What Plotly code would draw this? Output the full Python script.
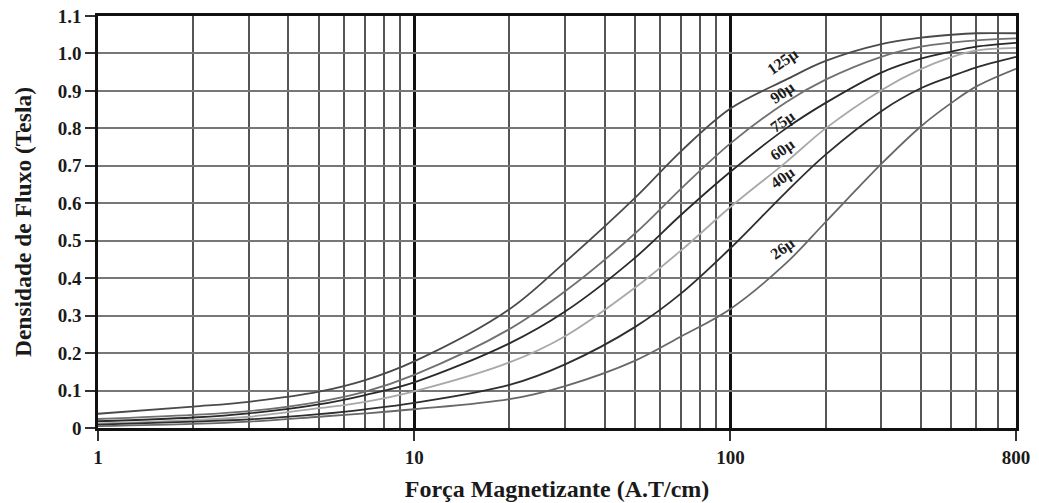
import numpy as np
import plotly.graph_objects as go

# ---- data ----
H = [1, 2, 3, 5, 7, 10, 20, 30, 50, 70, 100, 150, 200, 300, 400, 500, 600, 800]
B125 = [0.038, 0.057, 0.070, 0.097, 0.128, 0.178, 0.317, 0.443, 0.615, 0.740, 0.853, 0.930, 0.980, 1.025, 1.042, 1.050, 1.054, 1.054]
B90 = [0.024, 0.035, 0.045, 0.070, 0.097, 0.142, 0.264, 0.365, 0.520, 0.640, 0.760, 0.870, 0.930, 0.991, 1.018, 1.029, 1.035, 1.040]
B75 = [0.018, 0.028, 0.039, 0.063, 0.088, 0.122, 0.226, 0.311, 0.455, 0.570, 0.684, 0.800, 0.868, 0.949, 0.986, 1.005, 1.018, 1.028]
B60 = [0.012, 0.021, 0.030, 0.053, 0.070, 0.098, 0.175, 0.245, 0.375, 0.475, 0.590, 0.710, 0.800, 0.902, 0.958, 0.990, 1.008, 1.015]
B40 = [0.009, 0.017, 0.023, 0.037, 0.050, 0.067, 0.115, 0.170, 0.270, 0.360, 0.480, 0.630, 0.730, 0.846, 0.907, 0.939, 0.963, 0.991]
B26 = [0.005, 0.011, 0.017, 0.030, 0.039, 0.050, 0.077, 0.112, 0.180, 0.245, 0.318, 0.440, 0.550, 0.705, 0.805, 0.868, 0.912, 0.959]

series_names = ["125µ", "90µ", "75µ", "60µ", "40µ", "26µ"]
series_values = [B125, B90, B75, B60, B40, B26]
series_colors = ["#4a4a4a", "#707070", "#2a2a2a", "#a8a8a8", "#2e2e2e", "#686868"]

# label anchor points (H, B) for the curve names
label_H = [146, 146, 146, 146, 146, 146]
label_B = [0.978, 0.894, 0.818, 0.742, 0.668, 0.478]

x_tickvals = [1, 10, 100, 800]
x_ticktext = ["1", "10", "100", "800"]
x_minor = [2, 3, 4, 5, 6, 7, 8, 9, 20, 30, 40, 50, 60, 70, 80, 90, 200, 300, 400, 500, 600, 700]
y_tickvals = [0, 0.1, 0.2, 0.3, 0.4, 0.5, 0.6, 0.7, 0.8, 0.9, 1.0, 1.1]
y_ticktext = ["0", "0.1", "0.2", "0.3", "0.4", "0.5", "0.6", "0.7", "0.8", "0.9", "1.0", "1.1"]

FONT = "Liberation Serif"

fig = go.Figure()
for name, vals, col in zip(series_names, series_values, series_colors):
    fig.add_trace(go.Scatter(x=H, y=vals, mode="lines", name=name,
                             line=dict(color=col, width=1.8, shape="spline", smoothing=1.0),
                             showlegend=False, hoverinfo="skip"))

for name, hx, by in zip(series_names, label_H, label_B):
    fig.add_annotation(x=np.log10(hx), y=by, xref="x", yref="y", text="<b>%s</b>" % name,
                       showarrow=False, textangle=-35,
                       font=dict(family=FONT, size=16, color="#1a1a1a"))

fig.update_layout(
    width=1039, height=503,
    margin=dict(l=98, r=23, t=16, b=75, autoexpand=False),
    paper_bgcolor="white", plot_bgcolor="white",
    font=dict(family=FONT, color="#1a1a1a"),
)
fig.update_xaxes(
    type="log", range=[0, np.log10(800)], automargin=False,
    tickvals=x_tickvals, ticktext=["<b>%s</b>" % t for t in x_ticktext],
    ticks="outside", ticklen=10, tickwidth=1.5, tickcolor="#333",
    tickfont=dict(family=FONT, size=19, color="#1a1a1a"),
    showgrid=True, gridcolor="#111", gridwidth=2.5,
    minor=dict(tickvals=x_minor, showgrid=True, gridcolor="#555", gridwidth=1.6, ticks=""),
    showline=True, linecolor="#111", linewidth=2.5, mirror=True,
    zeroline=False,
    title=dict(text="<b>Força Magnetizante (A.T/cm)</b>", font=dict(family=FONT, size=24, color="#1a1a1a"),
               standoff=14),
)
fig.update_yaxes(
    range=[0, 1.1], automargin=False,
    tickvals=y_tickvals, ticktext=["<b>%s</b>" % t for t in y_ticktext],
    ticks="outside", ticklen=10, tickwidth=1.5, tickcolor="#333",
    tickfont=dict(family=FONT, size=19, color="#1a1a1a"),
    showgrid=True, gridcolor="#777", gridwidth=1.6,
    showline=True, linecolor="#111", linewidth=2.5, mirror=True,
    zeroline=False,
    title=dict(text="<b>Densidade de Fluxo (Tesla)</b>", font=dict(family=FONT, size=23.5, color="#1a1a1a"),
               standoff=20),
)

fig.write_html("out.html")
